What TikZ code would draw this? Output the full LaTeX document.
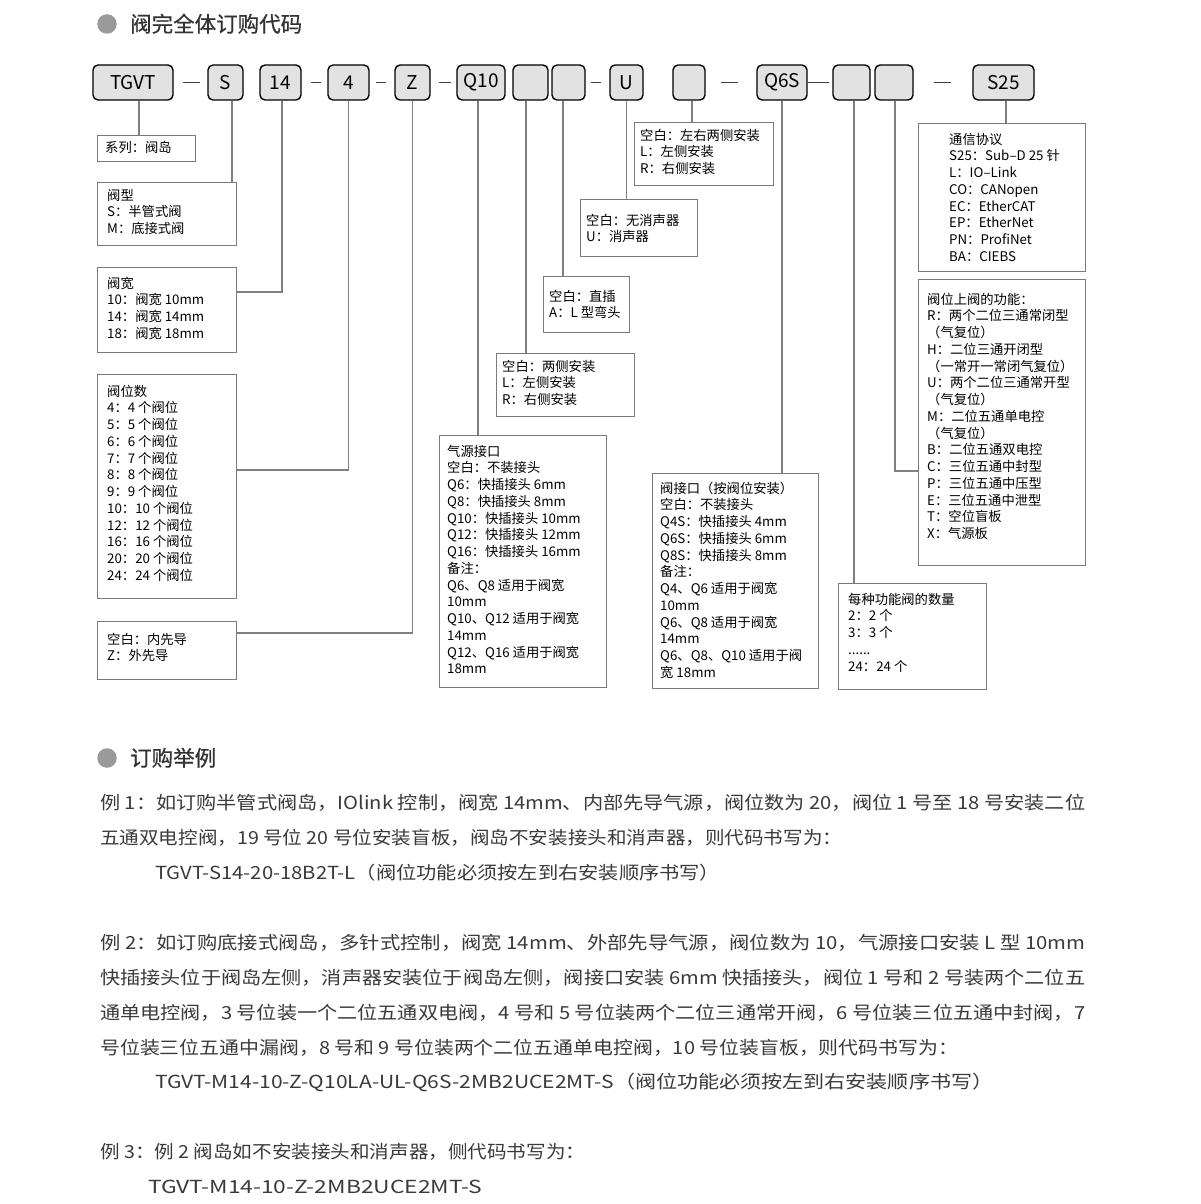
\documentclass[tikz,border=0pt]{standalone}
\usepackage{fontspec}
\setmainfont{Noto Sans CJK SC}
\newfontfamily\headfont[FakeBold=0.6]{Noto Sans CJK SC}
\usepackage{graphicx}
\definecolor{headtxt}{HTML}{333333}
\definecolor{bodytxt}{HTML}{3A3A3A}
\definecolor{dotgray}{HTML}{9A9A9A}
\definecolor{topfill}{HTML}{E2E2E2}
\definecolor{boxline}{HTML}{7A7A7A}
\definecolor{connline}{HTML}{808080}
\newcommand{\fitto}[2]{\resizebox{#1}{\height}{#2}}
\newcommand{\blines}[1]{\begin{tabular}[t]{@{}l@{}}#1\end{tabular}}
\begin{document}
\begin{tikzpicture}[x=1pt,y=-1pt,
  topbox/.style={draw=black, line width=1.4pt, fill=topfill, rounded corners=5pt,
    minimum height=35pt, inner sep=0pt, font=\fontsize{19}{19}\selectfont},
  joiner/.style={draw=black!75, line width=1.2pt},
  lbox/.style={draw=boxline, line width=1pt, anchor=north west, inner sep=0pt},
  btxt/.style={anchor=base west, inner sep=0pt,
    font=\fontsize{13.3}{16.75}\selectfont},
  conn/.style={draw=connline, line width=1.1pt},
  extxt/.style={anchor=base west, inner sep=0pt, text=bodytxt,
    font=\fontsize{18}{18}\selectfont},
  headtext/.style={anchor=base west, inner sep=0pt, text=headtxt,
    font=\headfont\fontsize{21.5}{21.5}\selectfont}
]
\useasboundingbox[fill=white] (0,0) rectangle (1200,1204);

% ---------- headings ----------
\node[circle, fill=dotgray, minimum size=19.5pt, inner sep=0pt] (dot1) at (107,24) {};
\node[headtext] (head1) at (130,32) {阀完全体订购代码};
\node[circle, fill=dotgray, minimum size=19.5pt, inner sep=0pt] (dot2) at (107,758) {};
\node[headtext] (head2) at (130,766) {订购举例};

% ---------- top code boxes ----------
\node[topbox, minimum width=80pt] (tgvt) at (133,82.5) {TGVT};
\node[topbox, minimum width=35pt] (s)    at (225.5,82.5) {S};
\node[topbox, minimum width=41pt] (w14)  at (280.5,82.5) {14};
\node[topbox, minimum width=41pt] (n4)   at (348.5,82.5) {4};
\node[topbox, minimum width=35pt] (z)    at (412.5,82.5) {Z};
\node[topbox, minimum width=48pt] (q10)  at (481,82.5) {Q10};
\node[topbox, minimum width=35pt] (e1)   at (530.5,82.5) {};
\node[topbox, minimum width=33pt] (e2)   at (568.5,82.5) {};
\node[topbox, minimum width=33pt] (u)    at (626.5,82.5) {U};
\node[topbox, minimum width=32pt] (e3)   at (689,82.5) {};
\node[topbox, minimum width=50pt] (q6s)  at (782,82.5) {Q6S};
\node[topbox, minimum width=37pt] (e4)   at (851.5,82.5) {};
\node[topbox, minimum width=38pt] (e5)   at (894,82.5) {};
\node[topbox, minimum width=61pt] (s25)  at (1003.5,82.5) {S25};

% joiners
\draw[joiner] ([xshift=9pt]tgvt.east) -- ([xshift=-7pt]s.west);
\draw[joiner] ([xshift=9pt]w14.east) -- ([xshift=-6pt]n4.west);
\draw[joiner] ([xshift=6pt]n4.east) -- ([xshift=-8pt]z.west);
\draw[joiner] ([xshift=8pt]z.east) -- ([xshift=-5pt]q10.west);
\draw[joiner] ([xshift=5pt]e2.east) -- ([xshift=-8pt]u.west);
\draw[joiner] ([xshift=15pt]e3.east) -- ([xshift=-18pt]q6s.west);
\draw[joiner] (q6s.east) -- ([xshift=-3pt]e4.west);
\draw[joiner] ([xshift=20pt]e5.east) -- ([xshift=-21pt]s25.west);

% ---------- description boxes ----------
\node[lbox, minimum width=98pt,  minimum height=26pt]  (xl) at (97,135) {};
\node[lbox, minimum width=139pt, minimum height=63pt]  (xx) at (97,182) {};
\node[lbox, minimum width=139pt, minimum height=85pt]  (kd) at (97,267) {};
\node[lbox, minimum width=139pt, minimum height=224pt] (ws) at (97,374) {};
\node[lbox, minimum width=139pt, minimum height=58pt]  (xd) at (97,621) {};
\node[lbox, minimum width=167pt, minimum height=252pt] (qy) at (439,435) {};
\node[lbox, minimum width=138pt, minimum height=63pt]  (ls) at (496,353) {};
\node[lbox, minimum width=86pt,  minimum height=56pt]  (zc) at (543,276) {};
\node[lbox, minimum width=117pt, minimum height=57pt]  (xs) at (580,199) {};
\node[lbox, minimum width=139pt, minimum height=63pt]  (lr) at (634,122) {};
\node[lbox, minimum width=166pt, minimum height=215pt] (fj) at (652,473) {};
\node[lbox, minimum width=167pt, minimum height=148pt] (tx) at (918,123) {};
\node[lbox, minimum width=167pt, minimum height=286pt] (gn) at (918,279) {};
\node[lbox, minimum width=148pt, minimum height=106pt] (sl) at (838,583) {};

% texts
\node[btxt] (xl-t) at (105,152) {系列：阀岛};
\node[btxt] (xx-t) at (107,200) {\blines{阀型\\S：半管式阀\\M：底接式阀}};
\node[btxt] (kd-t) at (107,288) {\blines{阀宽\\10：阀宽 10mm\\14：阀宽 14mm\\18：阀宽 18mm}};
\node[btxt] (ws-t) at (107,396) {\blines{阀位数\\4：4 个阀位\\5：5 个阀位\\6：6 个阀位\\7：7 个阀位\\8：8 个阀位\\9：9 个阀位\\10：10 个阀位\\12：12 个阀位\\16：16 个阀位\\20：20 个阀位\\24：24 个阀位}};
\node[btxt] (xd-t) at (107,644) {\blines{空白：内先导\\Z：外先导}};
\node[btxt] (qy-t) at (447,456) {\blines{气源接口\\空白：不装接头\\Q6：快插接头 6mm\\Q8：快插接头 8mm\\Q10：快插接头 10mm\\Q12：快插接头 12mm\\Q16：快插接头 16mm\\备注：\\Q6、Q8 适用于阀宽\\10mm\\Q10、Q12 适用于阀宽\\14mm\\Q12、Q16 适用于阀宽\\18mm}};
\node[btxt] (ls-t) at (502,371) {\blines{空白：两侧安装\\L：左侧安装\\R：右侧安装}};
\node[btxt] (zc-t) at (549,301) {\blines{空白：直插\\A：L 型弯头}};
\node[btxt] (xs-t) at (586,225) {\blines{空白：无消声器\\U：消声器}};
\node[btxt] (lr-t) at (640,140) {\blines{空白：左右两侧安装\\L：左侧安装\\R：右侧安装}};
\node[btxt] (fj-t) at (660,493) {\blines{阀接口（按阀位安装）\\空白：不装接头\\Q4S：快插接头 4mm\\Q6S：快插接头 6mm\\Q8S：快插接头 8mm\\备注：\\Q4、Q6 适用于阀宽\\10mm\\Q6、Q8 适用于阀宽\\14mm\\Q6、Q8、Q10 适用于阀\\宽 18mm}};
\node[btxt] (tx-t) at (949,144) {\blines{通信协议\\S25：Sub–D 25 针\\L：IO–Link\\CO：CANopen\\EC：EtherCAT\\EP：EtherNet\\PN：ProfiNet\\BA：CIEBS}};
\node[btxt] (gn-t) at (927,304) {\blines{阀位上阀的功能：\\R：两个二位三通常闭型\\（气复位）\\H：二位三通开闭型\\（一常开一常闭气复位）\\U：两个二位三通常开型\\（气复位）\\M：二位五通单电控\\（气复位）\\B：二位五通双电控\\C：三位五通中封型\\P：三位五通中压型\\E：三位五通中泄型\\T：空位盲板\\X：气源板}};
\node[btxt] (sl-t) at (848,604) {\blines{每种功能阀的数量\\2：2 个\\3：3 个\\......\\24：24 个}};

% ---------- connectors ----------
\coordinate (c-tgvt) at ([xshift=6pt]tgvt.south);
\coordinate (c-s)    at ([xshift=6.5pt]s.south);
\coordinate (c-w14)  at ([xshift=1.5pt]w14.south);
\coordinate (c-n4)   at (n4.south);
\coordinate (c-z)    at (z.south);
\coordinate (c-q10)  at ([xshift=-3pt]q10.south);
\coordinate (c-e1)   at ([xshift=-4.5pt]e1.south);
\coordinate (c-e2)   at ([xshift=-5.5pt]e2.south);
\coordinate (c-u)    at (u.south);
\coordinate (c-e3)   at ([xshift=3pt]e3.south);
\coordinate (c-q6s)  at (q6s.south);
\coordinate (c-e4)   at ([xshift=2.5pt]e4.south);
\coordinate (c-e5)   at ([xshift=1pt]e5.south);
\coordinate (c-s25)  at ([xshift=2.5pt]s25.south);

\draw[conn] (c-tgvt) -- (c-tgvt |- xl.north);
\draw[conn] (c-s) -- (c-s |- xx.north);
\draw[conn] (c-w14) |- ([yshift=-25pt]kd.north east);
\draw[conn] (c-n4) |- ([yshift=-96pt]ws.north east);
\draw[conn] (c-z) |- ([yshift=-12pt]xd.north east);
\draw[conn] (c-q10) -- (c-q10 |- qy.north);
\draw[conn] (c-e1) -- (c-e1 |- ls.north);
\draw[conn] (c-e2) -- (c-e2 |- zc.north);
\draw[conn] (c-u) -- (c-u |- xs.north);
\draw[conn] (c-e3) -- (c-e3 |- lr.north);
\draw[conn] (c-q6s) -- (c-q6s |- fj.north);
\draw[conn] (c-e4) -- (c-e4 |- sl.north);
\draw[conn] (c-e5) |- ([yshift=-192pt]gn.north west);
\draw[conn] (c-s25) -- (c-s25 |- tx.north);

% ---------- examples ----------
\node[extxt] (ex1a) at (100,809.5) {\fitto{985pt}{例 1：如订购半管式阀岛，IOlink 控制，阀宽 14mm、内部先导气源，阀位数为 20，阀位 1 号至 18 号安装二位}};
\node[extxt] (ex1b) at (100,844.5) {\fitto{742pt}{五通双电控阀，19 号位 20 号位安装盲板，阀岛不安装接头和消声器，则代码书写为：}};
\node[extxt] (ex1c) at (155,879.5) {\fitto{565pt}{TGVT-S14-20-18B2T-L（阀位功能必须按左到右安装顺序书写）}};
\node[extxt] (ex2a) at (100,949.5) {\fitto{985pt}{例 2：如订购底接式阀岛，多针式控制，阀宽 14mm、外部先导气源，阀位数为 10，气源接口安装 L 型 10mm}};
\node[extxt] (ex2b) at (100,984.5) {\fitto{985pt}{快插接头位于阀岛左侧，消声器安装位于阀岛左侧，阀接口安装 6mm 快插接头，阀位 1 号和 2 号装两个二位五}};
\node[extxt] (ex2c) at (100,1019.5) {\fitto{985pt}{通单电控阀，3 号位装一个二位五通双电阀，4 号和 5 号位装两个二位三通常开阀，6 号位装三位五通中封阀，7}};
\node[extxt] (ex2d) at (100,1054.5) {\fitto{858pt}{号位装三位五通中漏阀，8 号和 9 号位装两个二位五通单电控阀，10 号位装盲板，则代码书写为：}};
\node[extxt] (ex2e) at (155,1088.5) {\fitto{838pt}{TGVT-M14-10-Z-Q10LA-UL-Q6S-2MB2UCE2MT-S（阀位功能必须按左到右安装顺序书写）}};
\node[extxt] (ex3a) at (100,1158.5) {\fitto{485pt}{例 3：例 2 阀岛如不安装接头和消声器，侧代码书写为：}};
\node[extxt] (ex3b) at (148,1193.5) {\fitto{334pt}{TGVT-M14-10-Z-2MB2UCE2MT-S}};
\end{tikzpicture}
\end{document}
